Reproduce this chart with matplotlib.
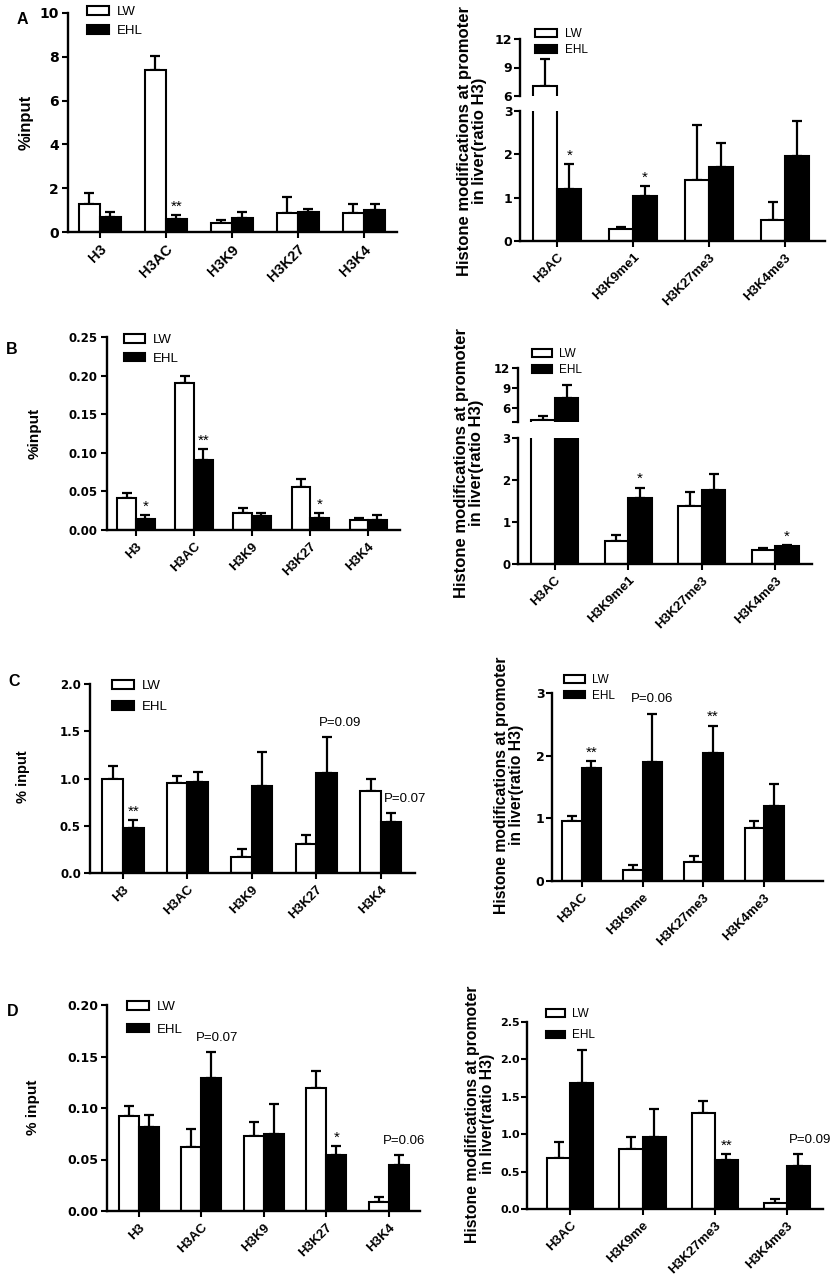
import numpy as np
import matplotlib.pyplot as plt

plt.rcParams['font.family'] = ['Liberation Sans', 'DejaVu Sans']

W, H = 835, 1281

left_groups = ["H3", "H3AC", "H3K9", "H3K27", "H3K4"]
right_groups_ab = ["H3AC", "H3K9me1", "H3K27me3", "H3K4me3"]
right_groups_cd = ["H3AC", "H3K9me", "H3K27me3", "H3K4me3"]

# panel A
a_left_lw = [1.27, 7.42, 0.39, 0.86, 0.86]
a_left_lw_sem = [0.51, 0.61, 0.17, 0.76, 0.40]
a_left_ehl = [0.70, 0.59, 0.62, 0.91, 0.99]
a_left_ehl_sem = [0.21, 0.18, 0.31, 0.14, 0.27]
a_left_marks = ["", "**", "", "", ""]

a_right_lw = [7.06, 0.27, 1.40, 0.48]
a_right_lw_sem = [2.84, 0.06, 1.27, 0.43]
a_right_ehl = [1.19, 1.05, 1.70, 1.96]
a_right_ehl_sem = [0.59, 0.22, 0.57, 0.82]
a_right_marks = ["*", "*", "", ""]

# panel B
b_left_lw = [0.042, 0.190, 0.022, 0.056, 0.013]
b_left_lw_sem = [0.006, 0.010, 0.007, 0.010, 0.0025]
b_left_ehl = [0.014, 0.091, 0.018, 0.015, 0.013]
b_left_ehl_sem = [0.005, 0.014, 0.004, 0.007, 0.007]
b_left_marks = ["*", "**", "", "*", ""]

b_right_lw = [4.3, 0.55, 1.38, 0.33]
b_right_lw_sem = [0.6, 0.14, 0.33, 0.04]
b_right_ehl = [7.5, 1.58, 1.77, 0.43]
b_right_ehl_sem = [2.0, 0.24, 0.38, 0.03]
b_right_marks = ["", "*", "", "*"]

# panel C
c_left_lw = [1.00, 0.95, 0.17, 0.31, 0.87]
c_left_lw_sem = [0.13, 0.08, 0.08, 0.09, 0.13]
c_left_ehl = [0.48, 0.96, 0.92, 1.06, 0.535]
c_left_ehl_sem = [0.08, 0.11, 0.36, 0.38, 0.095]
c_left_marks = ["**", "", "", "P=0.09", "P=0.07"]

c_right_lw = [0.95, 0.17, 0.30, 0.85]
c_right_lw_sem = [0.08, 0.08, 0.10, 0.11]
c_right_ehl = [1.81, 1.90, 2.04, 1.20]
c_right_ehl_sem = [0.10, 0.77, 0.44, 0.35]
c_right_marks = ["**", "P=0.06", "**", ""]

# panel D
d_left_lw = [0.092, 0.0625, 0.073, 0.119, 0.009]
d_left_lw_sem = [0.010, 0.0175, 0.013, 0.017, 0.0046]
d_left_ehl = [0.0816, 0.129, 0.075, 0.054, 0.0447]
d_left_ehl_sem = [0.012, 0.025, 0.029, 0.009, 0.0093]
d_left_marks = ["", "P=0.07", "", "*", "P=0.06"]

d_right_lw = [0.68, 0.80, 1.29, 0.085]
d_right_lw_sem = [0.22, 0.16, 0.16, 0.055]
d_right_ehl = [1.69, 0.96, 0.66, 0.57]
d_right_ehl_sem = [0.43, 0.38, 0.07, 0.16]
d_right_marks = ["", "", "**", "P=0.09"]

fig = plt.figure(figsize=(W / 100, H / 100), dpi=100)

BW = 0.32


def px_axes(l, t, r, b):
    return fig.add_axes([l / W, 1 - b / H, (r - l) / W, (b - t) / H])


def style(ax, fs, bottom=True, ypad=2.5):
    for s in ['top', 'right']:
        ax.spines[s].set_visible(False)
    ax.spines['left'].set_linewidth(1.7)
    ax.spines['bottom'].set_linewidth(1.7)
    if not bottom:
        ax.spines['bottom'].set_visible(False)
        ax.tick_params(axis='x', bottom=False, labelbottom=False)
    ax.tick_params(axis='both', direction='out', length=4, width=1.5)
    ax.tick_params(axis='y', pad=ypad)
    for lab in ax.get_yticklabels():
        lab.set_fontweight('bold')
        lab.set_fontfamily('DejaVu Sans')
        lab.set_fontsize(fs)


def draw_bars(ax, lw, lw_sem, ehl, ehl_sem):
    x = np.arange(len(lw))
    b1 = ax.bar(x - BW / 2, lw, BW, color='white', edgecolor='black',
                linewidth=1.5, label='LW', zorder=2)
    b2 = ax.bar(x + BW / 2, ehl, BW, color='black', edgecolor='black',
                linewidth=1.5, label='EHL', zorder=2)
    z = np.zeros(len(lw))
    ax.errorbar(x - BW / 2, lw, yerr=[z, lw_sem], fmt='none', ecolor='black',
                elinewidth=1.6, capsize=3.8, capthick=1.6, zorder=1)
    ax.errorbar(x + BW / 2, ehl, yerr=[z, ehl_sem], fmt='none', ecolor='black',
                elinewidth=1.6, capsize=3.8, capthick=1.6, zorder=1)
    return b1, b2


def marks(ax, ehl, ehl_sem, labels, pdx=0):
    for i, t in enumerate(labels):
        if not t:
            continue
        top = ehl[i] + ehl_sem[i]
        if t.startswith('P'):
            ax.annotate(t, (i + BW / 2, top), xytext=(pdx, 6),
                        textcoords='offset points', ha='center', va='bottom',
                        fontsize=9.5, annotation_clip=False)
        else:
            ax.annotate(t, (i + BW / 2, top), xytext=(0, 1),
                        textcoords='offset points', ha='center', va='bottom',
                        fontsize=11, annotation_clip=False)


def xlabels(ax, groups, fs):
    ax.set_xticks(np.arange(len(groups)))
    ax.set_xticklabels(groups, rotation=45, ha='right', rotation_mode='anchor',
                       fontweight='bold', fontsize=fs)


def legend_at(ax, handles, x, y, fs, hl, hh, sp):
    ax.legend(handles, ['LW', 'EHL'], loc='upper left',
              bbox_to_anchor=(x / W, 1 - y / H), bbox_transform=fig.transFigure,
              frameon=False, fontsize=fs, handlelength=hl, handleheight=hh,
              handletextpad=0.6, labelspacing=sp, borderpad=0, borderaxespad=0)


def ylab(ax, text, x, y, fs):
    # x, y: centre of the label block in pixels
    ax.set_ylabel(text, fontsize=fs, fontweight='bold', linespacing=1.05,
                  va='center')
    ax.yaxis.set_label_coords(x / W, 1 - y / H, transform=fig.transFigure)


def simple_panel(box, xlim, ylim, yticks, yticklabels, groups, lw, lw_sem,
                 ehl, ehl_sem, labels, fs, xfs, pdx=0, ypad=2.5):
    ax = px_axes(*box)
    h = draw_bars(ax, lw, lw_sem, ehl, ehl_sem)
    ax.set_xlim(*xlim)
    ax.set_ylim(*ylim)
    ax.set_yticks(yticks)
    ax.set_yticklabels(yticklabels)
    style(ax, fs, ypad=ypad)
    xlabels(ax, groups, xfs)
    marks(ax, ehl, ehl_sem, labels, pdx)
    return ax, h


def broken_panel(box_up, box_low, xlim, ylim_up, ticks_up, labels_up,
                 groups, lw, lw_sem, ehl, ehl_sem, labels, fs, xfs):
    up = px_axes(*box_up)
    low = px_axes(*box_low)
    for ax in (up, low):
        h = draw_bars(ax, lw, lw_sem, ehl, ehl_sem)
        ax.set_xlim(*xlim)
    up.set_ylim(*ylim_up)
    up.set_yticks(ticks_up)
    up.set_yticklabels(labels_up)
    low.set_ylim(0, 3)
    low.set_yticks([0, 1, 2, 3])
    low.set_yticklabels(['0', '1', '2', '3'])
    style(up, fs, bottom=False, ypad=1.5)
    style(low, fs, ypad=1.5)
    xlabels(low, groups, xfs)
    marks(low, ehl, ehl_sem, labels)
    return up, low, h


# ---- A ----
ax, h = simple_panel((68, 13, 397, 232), (-0.48, 4.5), (0, 10), [0, 2, 4, 6, 8, 10],
                     ['0', '2', '4', '6', '8', '10'], left_groups,
                     a_left_lw, a_left_lw_sem, a_left_ehl, a_left_ehl_sem,
                     a_left_marks, 10, 10.5)
legend_at(ax, h, 87, 6, 9.5, 1.7, 0.6, 0.55)
ylab(ax, '%input', 26, 122, 12)

up, low, h = broken_panel((520, 39, 825, 96), (520, 111, 825, 241), (-0.49, 3.53),
                          (6, 12), [6, 9, 12], ['6', '9', '12'], right_groups_ab,
                          a_right_lw, a_right_lw_sem, a_right_ehl, a_right_ehl_sem,
                          a_right_marks, 9, 9.5)
legend_at(up, h, 535, 28, 8.5, 1.9, 0.6, 0.35)
ylab(low, 'Histone modifications at promoter\nin liver(ratio H3)', 472, 141, 12)

# ---- B ----
ax, h = simple_panel((107, 337, 400, 530), (-0.5, 4.55), (0, 0.25),
                     [0, 0.05, 0.10, 0.15, 0.20, 0.25],
                     ['0.00', '0.05', '0.10', '0.15', '0.20', '0.25'], left_groups,
                     b_left_lw, b_left_lw_sem, b_left_ehl, b_left_ehl_sem,
                     b_left_marks, 8.5, 9.5)
legend_at(ax, h, 124, 334, 9.5, 1.6, 0.6, 0.5)
ylab(ax, '%input', 35, 433, 11)

up, low, h = broken_panel((518, 368, 812, 422), (518, 438, 812, 564), (-0.5, 3.5),
                          (4, 12), [4, 6, 9, 12], ['', '6', '9', '12'], right_groups_ab,
                          b_right_lw, b_right_lw_sem, b_right_ehl, b_right_ehl_sem,
                          b_right_marks, 8.5, 9.5)
legend_at(up, h, 532, 348, 8.5, 1.7, 0.6, 0.35)
ylab(low, 'Histone modifications at promoter\nin liver(ratio H3)', 469, 463, 12)

# ---- C ----
ax, h = simple_panel((90, 684, 415, 873), (-0.51, 4.53), (0, 2.0),
                     [0, 0.5, 1.0, 1.5, 2.0], ['0.0', '0.5', '1.0', '1.5', '2.0'],
                     left_groups, c_left_lw, c_left_lw_sem, c_left_ehl, c_left_ehl_sem,
                     c_left_marks, 8.5, 9.5, pdx=10)
legend_at(ax, h, 112, 680, 9.5, 1.7, 0.6, 0.7)
ylab(ax, '% input', 23, 777, 10.5)

ax, h = simple_panel((552, 693, 823, 881), (-0.49, 3.97), (0, 3), [0, 1, 2, 3],
                     ['0', '1', '2', '3'], right_groups_cd,
                     c_right_lw, c_right_lw_sem, c_right_ehl, c_right_ehl_sem,
                     c_right_marks, 9, 9.5, ypad=1.5)
legend_at(ax, h, 564, 674, 8.5, 1.8, 0.6, 0.3)
ylab(ax, 'Histone modifications at promoter\nin liver(ratio H3)', 509, 785, 11.3)

# ---- D ----
ax, h = simple_panel((107, 1005, 420, 1211), (-0.51, 4.5), (0, 0.20),
                     [0, 0.05, 0.10, 0.15, 0.20],
                     ['0.00', '0.05', '0.10', '0.15', '0.20'], left_groups,
                     d_left_lw, d_left_lw_sem, d_left_ehl, d_left_ehl_sem,
                     d_left_marks, 9, 9.5, pdx=4)
legend_at(ax, h, 127, 1001, 9.5, 1.7, 0.6, 0.8)
ylab(ax, '% input', 33, 1107, 11)

ax, h = simple_panel((527, 1022, 823, 1209), (-0.6, 3.5), (0, 2.5),
                     [0, 0.5, 1.0, 1.5, 2.0, 2.5],
                     ['0.0', '0.5', '1.0', '1.5', '2.0', '2.5'], right_groups_cd,
                     d_right_lw, d_right_lw_sem, d_right_ehl, d_right_ehl_sem,
                     d_right_marks, 8, 9.5, pdx=8, ypad=1.0)
legend_at(ax, h, 546, 1008, 8.5, 1.6, 0.6, 0.8)
ylab(ax, 'Histone modifications at promoter\nin liver(ratio H3)', 480, 1114, 11.3)

# panel letters
for letter, (lx, ly) in zip("ABCD", [(22, 19), (12, 349), (14, 681), (13, 1011)]):
    fig.text(lx / W, 1 - ly / H, letter, fontsize=11.5, fontweight='bold',
             ha='center', va='center')

fig.savefig('out.png', dpi=100)
